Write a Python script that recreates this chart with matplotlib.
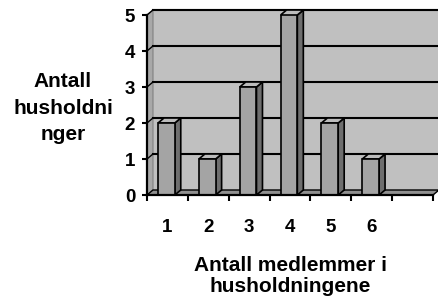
import matplotlib
matplotlib.use('Agg')
import matplotlib.pyplot as plt
from matplotlib.patches import Polygon

# data
kategorier = ['1', '2', '3', '4', '5', '6', '']
antall = [2, 1, 3, 5, 2, 1]
y_ticks = [0, 1, 2, 3, 4, 5]

plt.rcParams['font.family'] = ['Liberation Sans', 'DejaVu Sans']

fig = plt.figure(figsize=(4.38, 3.01), dpi=100)
W, H = 438, 301
ax = fig.add_axes([147 / W, 1 - 195 / H, (433 - 147) / W, 180 / H])
n = len(kategorier)
ax.set_xlim(0, n)
ax.set_ylim(0, 5)
ax.patch.set_visible(False)

# 3D depth offset in data units
dx, dy = 6 / 41, 5 / 36

# back wall, side wall, floor
wall = Polygon([(dx, dy), (n + dx, dy), (n + dx, 5 + dy), (dx, 5 + dy)],
               closed=True, facecolor='#c0c0c0', edgecolor='none', zorder=0, clip_on=False)
ax.add_patch(wall)
ax.plot([dx, n + dx], [5 + dy, 5 + dy], color='#808080', lw=1.5, zorder=1, clip_on=False)
side = Polygon([(0, 0), (dx, dy), (dx, 5 + dy), (0, 5)], closed=True,
               facecolor='#a8a8a8', edgecolor='#808080', lw=0.8, zorder=1, clip_on=False)
ax.add_patch(side)
floor = Polygon([(0, 0), (n, 0), (n + dx, dy), (dx, dy)], closed=True,
                facecolor='#909090', edgecolor='black', lw=1.0, zorder=1, clip_on=False)
ax.add_patch(floor)

# gridlines on back wall
for k in y_ticks[1:]:
    ax.plot([dx, n + dx], [k + dy, k + dy], color='black', lw=1.5, zorder=2, clip_on=False)
    ax.plot([0, dx], [k, k + dy], color='black', lw=1.0, zorder=2, clip_on=False)

# bars
bw = 0.41
for i, h in enumerate(antall):
    x0 = i + 0.27
    x1 = x0 + bw
    ax.bar(x0, h, width=bw, align='edge', color='#a4a4a4', edgecolor='black', lw=1.2, zorder=4)
    ax.add_patch(Polygon([(x1, 0), (x1 + dx, dy), (x1 + dx, h + dy), (x1, h)], closed=True,
                         facecolor='#6e6e6e', edgecolor='black', lw=1.2, zorder=3, clip_on=False))
    ax.add_patch(Polygon([(x0, h), (x0 + dx, h + dy), (x1 + dx, h + dy), (x1, h)], closed=True,
                         facecolor='#bcbcbc', edgecolor='black', lw=1.2, zorder=3, clip_on=False))

# axes
for s in ['top', 'right']:
    ax.spines[s].set_visible(False)
for s in ['left', 'bottom']:
    ax.spines[s].set_linewidth(1.6)
    ax.spines[s].set_zorder(5)

ax.set_yticks(y_ticks)
ax.tick_params(axis='y', direction='out', length=3.5, width=1.5, pad=5, labelsize=13.5)
for t in ax.get_yticklabels():
    t.set_fontweight('bold')

ax.set_xticks(range(n + 1))
ax.set_xticklabels([])
ax.set_xticks([i + 0.5 for i in range(n)], minor=True)
ax.set_xticklabels(kategorier, minor=True)
ax.tick_params(axis='x', which='major', direction='out', length=4, width=1.5)
ax.tick_params(axis='x', which='minor', length=0, pad=17, labelsize=13.5)
for t in ax.get_xticklabels(minor=True):
    t.set_fontweight('bold')

fig.text(63 / W, 1 - 72 / H, 'Antall\nhusholdni\nnger', ha='center', va='top',
         fontsize=15, fontweight='bold', linespacing=1.5)
fig.text(290 / W, 1 - 256 / H, 'Antall medlemmer i\nhusholdningene', ha='center', va='top',
         fontsize=15, fontweight='bold', linespacing=1.15)

fig.savefig('out.png', dpi=100)
